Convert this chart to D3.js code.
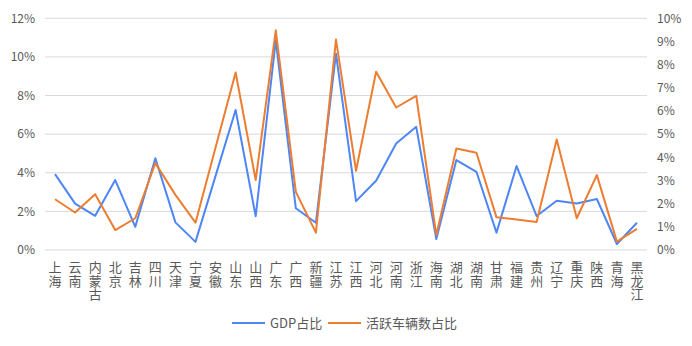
<!DOCTYPE html>
<html><head><meta charset="utf-8">
<script src="https://cdn.jsdelivr.net/npm/d3@7"></script>
<style>body{margin:0;background:#fff}svg{display:block}text{font-family:"Noto Sans CJK SC","Microsoft YaHei",sans-serif}</style>
</head><body><svg id="c" width="692" height="346"></svg>
<script>
const categories = ["上海","云南","内蒙古","北京","吉林","四川","天津","宁夏","安徽","山东","山西","广东","广西","新疆","江苏","江西","河北","河南","浙江","海南","湖北","湖南","甘肃","福建","贵州","辽宁","重庆","陕西","青海","黑龙江"];
const gdpShare = [3.93,2.40,1.77,3.62,1.20,4.75,1.43,0.42,3.84,7.25,1.75,10.86,2.16,1.41,10.17,2.53,3.59,5.52,6.38,0.57,4.66,4.05,0.90,4.35,1.76,2.55,2.41,2.64,0.31,1.41];
const vehicleShare = [2.19,1.62,2.41,0.86,1.37,3.75,2.38,1.18,4.42,7.66,3.02,9.48,2.51,0.75,9.08,3.42,7.69,6.15,6.65,0.65,4.38,4.20,1.41,1.32,1.21,4.77,1.37,3.23,0.36,0.91];
const leftTicks = [0,2,4,6,8,10,12];
const rightTicks = [0,1,2,3,4,5,6,7,8,9,10];
const seriesNames = ["GDP占比","活跃车辆数占比"];
const colors = ["#4e86f6","#ed7d31"];

const svg = d3.select("#c");
const L = 45, R = 647, T = 18.3, B = 250;
const x = d3.scaleBand().domain(categories).range([L, R]);
const yL = d3.scaleLinear().domain([0,12]).range([B, T]);
const yR = d3.scaleLinear().domain([0,10]).range([B, T]);

svg.append("g").selectAll("line").data(leftTicks).join("line")
  .attr("x1", L).attr("x2", R).attr("y1", d=>yL(d)).attr("y2", d=>yL(d))
  .attr("stroke", "#d9d9d9").attr("stroke-width", 1);

const lAxis = d3.axisLeft(yL).tickValues(leftTicks).tickFormat(d=>d+"%").tickSize(0).tickPadding(10);
svg.append("g").attr("transform", `translate(${L},0)`).call(lAxis)
  .call(g=>g.select(".domain").remove())
  .selectAll("text").attr("fill","#595959").style("font-size","12px");
const rAxis = d3.axisRight(yR).tickValues(rightTicks).tickFormat(d=>d+"%").tickSize(0).tickPadding(10);
svg.append("g").attr("transform", `translate(${R},0)`).call(rAxis)
  .call(g=>g.select(".domain").remove())
  .selectAll("text").attr("fill","#595959").style("font-size","12px");

// x labels stacked vertically
const xl = svg.append("g");
categories.forEach(c => {
  const t = xl.append("text").attr("text-anchor","middle").attr("fill","#595959").style("font-size","13px");
  [...c].forEach((ch,i) => {
    t.append("tspan").attr("x", x(c)+x.bandwidth()/2).attr("y", 272 + i*13.5).text(ch);
  });
});

const cx = d => x(d)+x.bandwidth()/2;
const lineL = d3.line().x((d,i)=>cx(categories[i])).y(d=>yL(d));
const lineR = d3.line().x((d,i)=>cx(categories[i])).y(d=>yR(d));
svg.append("path").attr("d", lineL(gdpShare)).attr("fill","none").attr("stroke",colors[0]).attr("stroke-width",2).attr("stroke-linejoin","round");
svg.append("path").attr("d", lineR(vehicleShare)).attr("fill","none").attr("stroke",colors[1]).attr("stroke-width",2).attr("stroke-linejoin","round");

// legend
const lg = svg.append("g");
const items = [{x:232, name:seriesNames[0], c:colors[0]},{x:328, name:seriesNames[1], c:colors[1]}];
items.forEach(it => {
  lg.append("line").attr("x1", it.x).attr("x2", it.x+33).attr("y1", 323).attr("y2", 323).attr("stroke", it.c).attr("stroke-width", 2);
  lg.append("text").attr("x", it.x+38).attr("y", 323).attr("dy","0.35em").attr("fill","#595959").style("font-size","13px").text(it.name);
});
</script></body></html>
